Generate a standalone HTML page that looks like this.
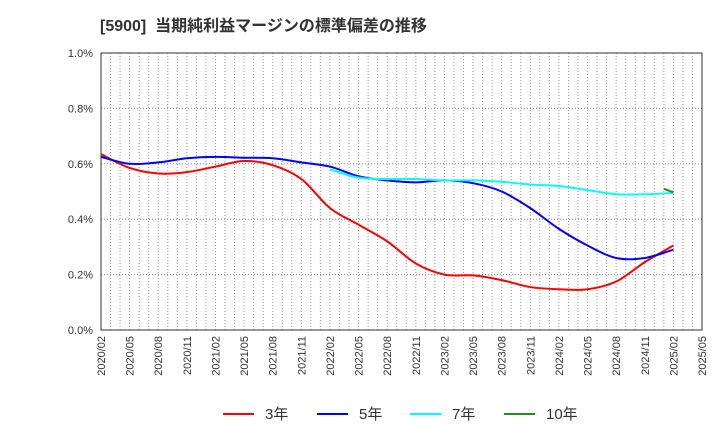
<!DOCTYPE html>
<html><head><meta charset="utf-8"><style>
body{margin:0;background:#fff;font-family:"Liberation Sans","Noto Sans CJK JP",sans-serif}
</style></head><body>
<svg id="c" width="720" height="440" xmlns="http://www.w3.org/2000/svg">
<text x="100" y="31" font-size="16" font-weight="bold" fill="#333" font-family="Liberation Sans, Noto Sans CJK JP, sans-serif" xml:space="preserve">[5900]  当期純利益マージンの標準偏差の推移</text>
<g id="grid"></g><g id="axes"></g><g id="series"></g><g id="legend"></g>
</svg>
<script>
const xLabels=["2020/02","2020/05","2020/08","2020/11","2021/02","2021/05","2021/08","2021/11","2022/02","2022/05","2022/08","2022/11","2023/02","2023/05","2023/08","2023/11","2024/02","2024/05","2024/08","2024/11","2025/02","2025/05"];
const yTicks=[0,0.2,0.4,0.6,0.8,1.0];
const s3=[0.635,0.585,0.565,0.57,0.59,0.61,0.595,0.545,0.44,0.38,0.32,0.24,0.20,0.197,0.18,0.155,0.147,0.147,0.175,0.245,0.305];
const s5=[0.625,0.60,0.605,0.62,0.625,0.622,0.62,0.605,0.59,0.555,0.54,0.533,0.54,0.53,0.50,0.44,0.365,0.305,0.26,0.26,0.29];
const s7=[0.58,0.55,0.545,0.545,0.54,0.54,0.535,0.525,0.52,0.505,0.49,0.49,0.495];
const s7start=8;
const s10=[0.51,0.497];
const NS="http://www.w3.org/2000/svg";
const L=101,R=702,T=53,B=330;
const months=63;
const xm=m=>L+(R-L)*m/months;
const xq=i=>xm(i*3);
const y=v=>B-(B-T)*v/1.0;
function el(tag,attrs,parent,txt){const e=document.createElementNS(NS,tag);for(const k in attrs)e.setAttribute(k,attrs[k]);if(txt!==undefined)e.textContent=txt;parent.appendChild(e);return e;}
const grid=document.getElementById('grid'),axes=document.getElementById('axes'),ser=document.getElementById('series'),leg=document.getElementById('legend');
for(let m=0;m<=months;m++){const g=el('line',{x1:xm(m),x2:xm(m),y1:T,y2:B,stroke:'#999','stroke-dasharray':'1,2','stroke-width':1},grid);

}
yTicks.forEach(v=>{const g=el('line',{x1:L,x2:R,y1:y(v),y2:y(v),stroke:'#888','stroke-dasharray':'1,2','stroke-width':1},grid);


const t=el('text',{x:L-8,y:y(v)+4,'text-anchor':'end','font-size':11,fill:'#333'},axes,v.toFixed(1)+'%');

});
const fr=el('rect',{x:L,y:T,width:R-L,height:B-T,fill:'none',stroke:'#333','stroke-width':1},axes);


xLabels.forEach((lb,i)=>{const x=xq(i);const t=el('text',{x:x+4,y:B+6,'text-anchor':'end','font-size':11,fill:'#333',transform:`rotate(-90 ${x+4} ${B+6})`},axes,lb);

});
function path(pts){let d=`M${pts[0][0]},${pts[0][1]}`;for(let i=0;i<pts.length-1;i++){const p0=pts[i-1]||pts[i],p1=pts[i],p2=pts[i+1],p3=pts[i+2]||p2;
const c1=[p1[0]+(p2[0]-p0[0])/6,p1[1]+(p2[1]-p0[1])/6],c2=[p2[0]-(p3[0]-p1[0])/6,p2[1]-(p3[1]-p1[1])/6];d+=`C${c1[0]},${c1[1]} ${c2[0]},${c2[1]} ${p2[0]},${p2[1]}`;}return d;}
function draw(vals,xs,color,name){const p=el('path',{d:path(vals.map((v,i)=>[xs(i),y(v)])),fill:'none',stroke:color,'stroke-width':2},ser);

}
draw(s3,i=>xq(i),'#f00','series-3y');
draw(s5,i=>xq(i),'#00f','series-5y');
draw(s7,i=>xq(i+s7start),'#0ff','series-7y');
draw(s10,i=>xm(59+i),'#228b22','series-10y');
const items=[['3年','#f00'],['5年','#00f'],['7年','#0ff'],['10年','#228b22']];
const lx=[223,317,410,504];
items.forEach((it,i)=>{const g=el('g',{},leg);


el('line',{x1:lx[i],x2:lx[i]+31,y1:414,y2:414,stroke:it[1],'stroke-width':2},g);
el('text',{x:lx[i]+42,y:419,'font-size':15,fill:'#333'},g,it[0]);});
</script>
</body></html>
